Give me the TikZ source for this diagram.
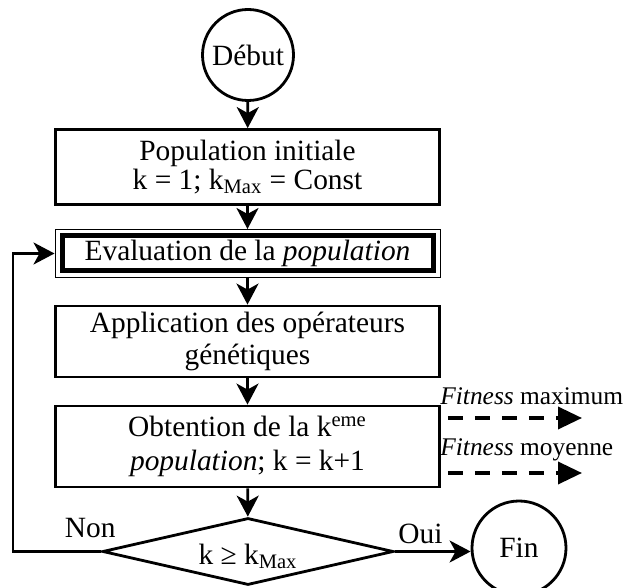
\documentclass[tikz,border=0pt]{standalone}
\usepackage{fontspec}
\setmainfont{Liberation Serif}
\usetikzlibrary{shapes.geometric,arrows.meta,calc,positioning}

\tikzset{
  box/.style={draw, line width=1.4pt, minimum width=192pt, align=center,
    inner sep=2pt, font=\fontsize{14.7}{16}\selectfont},
  term/.style={draw, circle, line width=1.4pt, inner sep=0pt,
    font=\fontsize{14.7}{16}\selectfont},
  flow/.style={line width=1.4pt, -{Stealth[length=10.5pt,width=11pt,inset=3pt]}},
  fitarrow/.style={line width=1.8pt, dash pattern=on 7.5pt off 6pt,
    -{Triangle[length=12pt,width=11pt]}, shorten <=3.5pt},
  txt/.style={inner sep=0pt, font=\fontsize{14.7}{16}\selectfont},
  smalltxt/.style={inner sep=0pt, font=\fontsize{12.7}{14}\selectfont},
}

\begin{document}
\begin{tikzpicture}[x=0.5pt,y=-0.5pt]
  \useasboundingbox (0,0) rectangle (627,588);
  % start
  \node[term, minimum size=45.5pt] (debut) at (248,55) {Début};
  % boxes
  \node[box, minimum height=37.5pt, font=\fontsize{14.7}{13}\selectfont] (pop) at (247.5,167)
    {Population initiale\\k = 1; k\textsubscript{Max} = Const};
  \node[box, line width=0.5pt, minimum width=192.5pt, minimum height=24pt] (eval) at (247.5,253.5)
    {Evaluation de la \textit{population}};
  \draw[line width=2.5pt] ([shift={(7.5,7)}]eval.north west) rectangle ([shift={(-7.5,-7)}]eval.south east);
  \node[box, minimum height=35.5pt] (appl) at (247.5,341.5)
    {Application des opérateurs\\génétiques};
  \node[box, minimum height=40.5pt, font=\fontsize{14.7}{17}\selectfont] (obt) at (247.5,446.5)
    {Obtention de la k\textsuperscript{eme}\\\textit{population}; k = k+1};
  % test
  \node[draw, diamond, aspect=4.3, line width=1.4pt, minimum width=145.5pt, minimum height=33.5pt,
    inner sep=0pt, text height=13pt, text depth=0pt, font=\fontsize{14.7}{16}\selectfont] (test) at (248,551.5)
    {k ≥ k\textsubscript{Max}};
  % end
  \node[term, minimum size=47pt] (fin) at (519,548) {Fin};
  % flow
  \draw[flow] (debut) -- (pop);
  \draw[flow] (pop) -- (eval);
  \draw[flow] (eval) -- (appl);
  \draw[flow] (appl) -- (obt);
  \draw[flow] (obt) -- (test);
  \draw[flow] (test.east) -- (test.east -| fin.west);
  \coordinate (loop) at (13,551.5);
  \draw[flow] (test.west) -- (loop) |- (eval.west);
  \node[txt, anchor=base east] (non) at (116,537) {Non};
  \node[txt, anchor=base west] (oui) at (398,543) {Oui};
  % fitness outputs
  \coordinate (fmax) at (582,418);
  \coordinate (fmoy) at (582,473);
  \draw[fitarrow] (obt.east |- fmax) -- (fmax);
  \draw[fitarrow] (obt.east |- fmoy) -- (fmoy);
  \node[smalltxt, anchor=base west] (lmax) at (440,405) {\textit{Fitness} maximum};
  \node[smalltxt, anchor=base west] (lmoy) at (440,455) {\textit{Fitness} moyenne};
\end{tikzpicture}
\end{document}
